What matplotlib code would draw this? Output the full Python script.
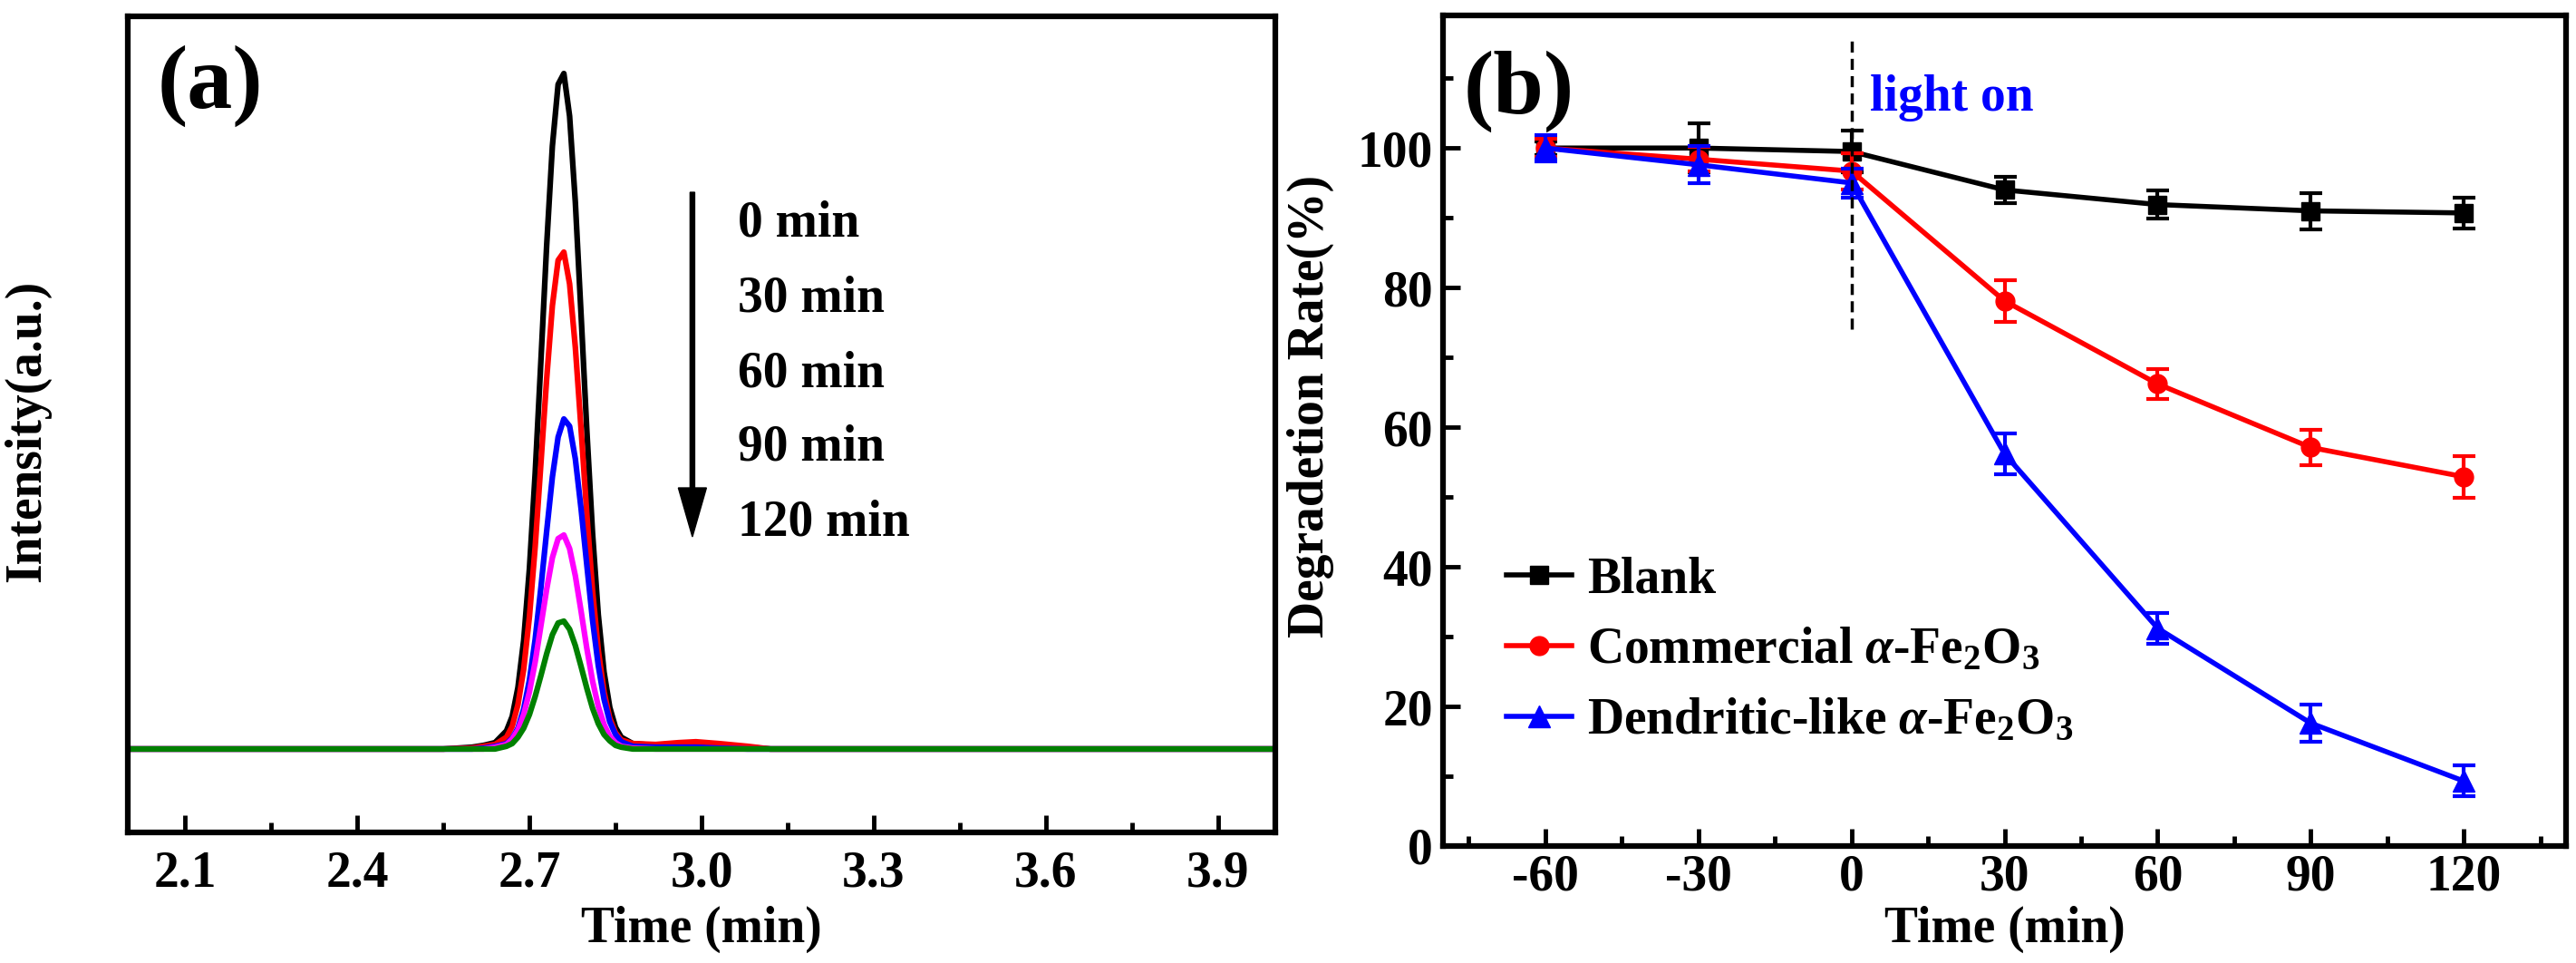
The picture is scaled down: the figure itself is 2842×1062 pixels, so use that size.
"""
Two-panel figure: (a) HPLC chromatograms of the dye over irradiation time,
(b) photocatalytic degradation rate vs time for blank / commercial /
dendritic-like alpha-Fe2O3.
"""
import matplotlib
matplotlib.use('Agg')
import matplotlib.pyplot as plt
from matplotlib.ticker import MultipleLocator

plt.rcParams['font.family'] = ['Liberation Serif', 'DejaVu Serif']
plt.rcParams['font.weight'] = 'bold'
plt.rcParams['axes.unicode_minus'] = False
plt.rcParams['mathtext.fontset'] = 'custom'
plt.rcParams['mathtext.rm'] = 'Liberation Serif:bold'
plt.rcParams['mathtext.bf'] = 'Liberation Serif:bold'
plt.rcParams['mathtext.it'] = 'Liberation Serif:italic:bold'

# ---- panel (a): chromatograms (retention time in min, intensity a.u.)
ret_time = [2.00, 2.55, 2.60, 2.62, 2.64, 2.66, 2.67, 2.68, 2.69, 2.70,
            2.71, 2.72, 2.73, 2.74, 2.75, 2.76, 2.77, 2.78, 2.79, 2.80,
            2.81, 2.82, 2.83, 2.84, 2.85, 2.86, 2.88, 2.92, 2.96, 2.99,
            3.03, 3.08, 3.12, 4.00]
int_0 = [0, 0, 2, 4, 7, 20, 36, 68, 120, 199, 304, 428, 555, 665, 733,
         745, 698, 603, 479, 352, 238, 148, 85, 46, 24, 13, 6, 4, 6, 7,
         5, 2, 0, 0]
int_30 = [0, 0, 1, 3, 5, 13, 25, 49, 88, 146, 223, 315, 408, 489, 539,
          548, 513, 443, 353, 259, 175, 109, 63, 34, 18, 10, 6, 5, 7, 8,
          6, 3, 0, 0]
int_60 = [0, 0, 0, 1, 3, 6, 12, 23, 44, 76, 121, 178, 240, 300, 344,
          364, 356, 320, 265, 203, 142, 92, 55, 30, 16, 8, 3, 2, 2, 2,
          1, 0, 0, 0]
int_90 = [0, 0, 0, 0, 2, 5, 11, 21, 38, 63, 96, 136, 176, 211, 232,
          236, 221, 191, 152, 111, 75, 47, 27, 14, 7, 3, 1, 0, 0, 0,
          0, 0, 0, 0]
int_120 = [0, 0, 0, 0, 0, 3, 6, 13, 23, 38, 58, 81, 105, 126, 139,
           141, 132, 114, 91, 67, 45, 28, 16, 9, 4, 2, 0, 0, 0, 0,
           0, 0, 0, 0]
chrom_labels = ['0 min', '30 min', '60 min', '90 min', '120 min']
chrom_colors = ['#000000', '#ff0000', '#0000ff', '#ff00ff', '#008000']

# ---- panel (b): degradation rate (%)
deg_time = [-60, -30, 0, 30, 60, 90, 120]
blank = [100.0, 100.0, 99.5, 94.0, 91.9, 91.0, 90.7]
blank_err = [1.0, 3.5, 3.0, 1.9, 2.0, 2.6, 2.2]
commercial = [100.0, 98.4, 96.7, 78.1, 66.2, 57.1, 52.9]
commercial_err = [1.3, 1.8, 2.6, 3.0, 2.1, 2.5, 3.0]
dendritic = [100.0, 97.6, 95.0, 56.2, 31.2, 17.6, 9.3]
dendritic_err = [1.9, 2.7, 2.1, 2.9, 2.2, 2.7, 2.2]

FS = 40
SPINE = 4.5

fig = plt.figure(figsize=(28.42, 10.62), dpi=100)
ax_a = fig.add_axes([0.0496, 0.1356, 0.4455, 0.8474])
ax_b = fig.add_axes([0.5602, 0.1215, 0.4359, 0.8625])

# Panel (a)
for y, c in zip([int_0, int_30, int_60, int_90, int_120], chrom_colors):
	ax_a.plot(ret_time, y, color=c, linewidth=4.5, solid_joinstyle='round')
ax_a.set_xlim(2.0, 4.0)
ax_a.set_ylim(-92, 808)
ax_a.set_xticks([2.1, 2.4, 2.7, 3.0, 3.3, 3.6, 3.9])
ax_a.xaxis.set_minor_locator(MultipleLocator(0.15))
ax_a.tick_params(axis='x', which='major', direction='in', length=14, width=3.5,
	labelsize=FS, pad=14)
ax_a.tick_params(axis='x', which='minor', direction='in', length=8, width=3.5)
ax_a.tick_params(axis='y', left=False, labelleft=False)
ax_a.set_xlabel('Time (min)', fontsize=FS, fontweight='bold')
ax_a.set_ylabel('Intensity(a.u.)', fontsize=FS, fontweight='bold')
ax_a.xaxis.set_label_coords(0.5, -0.09)
ax_a.yaxis.set_label_coords(-0.067, 0.492)
ax_a.arrow(2.984, 614, 0, -380, width=0.008, head_width=0.049, head_length=54,
	length_includes_head=True, color='black')
for lab, yv in zip(chrom_labels, [580, 497, 414, 333, 250]):
	ax_a.text(3.063, yv, lab, fontsize=FS, fontweight='bold', va='center', ha='left')
ax_a.text(0.026, 0.888, '(a)', transform=ax_a.transAxes, fontsize=72,
	fontweight='bold', va='baseline', ha='left')

# Panel (b)
series = [
	(blank, blank_err, '#000000', 's', 14, 'Blank'),
	(commercial, commercial_err, '#ff0000', 'o', 15, r'Commercial $\alpha$-Fe$_2$O$_3$'),
	(dendritic, dendritic_err, '#0000ff', '^', 17, r'Dendritic-like $\alpha$-Fe$_2$O$_3$'),
]
for vals, errs, c, m, ms, lab in series:
	ax_b.errorbar(deg_time, vals, yerr=errs, fmt='none', ecolor=c, elinewidth=3,
		capsize=9, capthick=3)
	ax_b.plot(deg_time, vals, color=c, marker=m, markersize=ms, linewidth=4, label=lab)
ax_b.plot([0, 0], [74, 116], color='black', linewidth=2.5, linestyle=(0, (3.5, 2)))
ax_b.text(3.6, 105.3, 'light on', color='#0000ff', fontsize=FS, fontweight='bold',
	va='baseline', ha='left')
ax_b.text(0.018, 0.882, '(b)', transform=ax_b.transAxes, fontsize=72,
	fontweight='bold', va='baseline', ha='left')
ax_b.set_xlim(-80, 140)
ax_b.set_ylim(0, 119)
ax_b.set_xticks(deg_time)
ax_b.xaxis.set_minor_locator(MultipleLocator(15))
ax_b.set_yticks([0, 20, 40, 60, 80, 100])
ax_b.yaxis.set_minor_locator(MultipleLocator(10))
ax_b.tick_params(which='major', direction='in', length=14, width=3.5, labelsize=FS)
ax_b.tick_params(which='minor', direction='in', length=8, width=3.5)
ax_b.tick_params(axis='x', pad=6)
ax_b.tick_params(axis='y', pad=8)
ax_b.set_xlabel('Time (min)', fontsize=FS, fontweight='bold')
ax_b.set_ylabel('Degradetion Rate(%)', fontsize=FS, fontweight='bold')
ax_b.xaxis.set_label_coords(0.5, -0.072)
ax_b.yaxis.set_label_coords(-0.097, 0.529)
ax_b.legend(loc='upper left', bbox_to_anchor=(0.0565, 0.349), frameon=False,
	fontsize=FS, handlelength=1.3, handletextpad=0.3, labelspacing=0.47,
	borderpad=0, borderaxespad=0)

for ax in (ax_a, ax_b):
	for sp in ax.spines.values():
		sp.set_linewidth(SPINE)
	for lab in ax.get_xticklabels() + ax.get_yticklabels():
		lab.set_fontweight('bold')

fig.savefig('out.png', dpi=100)
